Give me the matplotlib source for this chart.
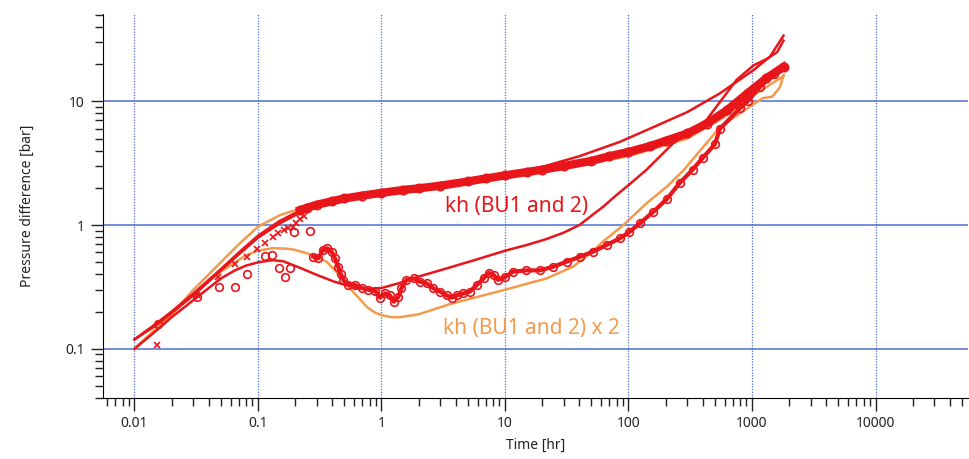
import numpy as np
import matplotlib
matplotlib.use("Agg")
import matplotlib.pyplot as plt
from matplotlib.ticker import LogLocator, FixedLocator, FixedFormatter, NullFormatter

plt.rcParams['font.family'] = ['Noto Sans', 'DejaVu Sans']

RED = '#e8151b'
ORANGE = '#f39a4c'
GRID = '#4a6fd4'

# measured derivative, sparse early part (open circles)
deriv_early_t = [0.0156, 0.0319, 0.0483, 0.065, 0.081, 0.114, 0.130, 0.149, 0.164, 0.181, 0.197, 0.264]
deriv_early_p = [0.16, 0.26, 0.317, 0.317, 0.40, 0.56, 0.57, 0.45, 0.38, 0.45, 0.88, 0.89]

# measured derivative, dense part
deriv_t = [0.281, 0.308, 0.334, 0.364, 0.395, 0.42, 0.446, 0.47, 0.49, 0.537, 0.61, 0.69,
           0.78, 0.89, 0.97, 1.07, 1.17, 1.26, 1.37, 1.45, 1.59, 1.82, 2.05, 2.32, 2.63,
           2.98, 3.37, 3.7, 4.05, 4.6, 5.2, 5.9, 6.7, 7.4, 8.1, 8.8, 10.0, 11.6, 14.9,
           19.1, 24.5, 31.5, 40.4, 51.8, 66.4, 85.0, 101.8, 123, 159, 204, 261, 330,
           400, 500, 550, 800, 920, 1160, 1500, 1790]
deriv_p = [0.555, 0.538, 0.628, 0.648, 0.61, 0.538, 0.46, 0.40, 0.36, 0.33, 0.327, 0.31,
           0.30, 0.293, 0.259, 0.28, 0.27, 0.24, 0.263, 0.308, 0.36, 0.37, 0.348, 0.338, 0.308,
           0.29, 0.27, 0.259, 0.27, 0.28, 0.29, 0.327, 0.37, 0.41, 0.395, 0.36, 0.38, 0.42, 0.43,
           0.43, 0.46, 0.505, 0.555, 0.61, 0.69, 0.78, 0.88, 1.03, 1.28, 1.62, 2.2, 2.8,
           3.5, 4.5, 6.0, 8.8, 10.0, 13.1, 16.5, 19.0]

# measured pressure change, dense part
press_t = [0.22, 0.25, 0.3, 0.4, 0.5, 0.7, 1.0, 1.5, 2.0, 3.0, 5.0, 7.0, 10.0, 15.0, 20.0,
           30.0, 50.0, 70.0, 100.0, 150.0, 200.0, 300.0, 430.0, 630.0, 920.0, 1300.0, 1800.0]
press_p = [1.32, 1.38, 1.46, 1.56, 1.64, 1.73, 1.82, 1.92, 1.98, 2.08, 2.25, 2.38, 2.52, 2.68, 2.8,
           3.0, 3.3, 3.6, 3.9, 4.35, 4.8, 5.5, 6.6, 8.5, 11.6, 15.3, 19.0]

# second build-up, early points (crosses)
bu2_t = [0.0153, 0.032, 0.0476, 0.065, 0.081, 0.0974, 0.114, 0.132, 0.146, 0.162, 0.176, 0.191, 0.205, 0.22, 0.235]
bu2_p = [0.108, 0.27, 0.38, 0.48, 0.55, 0.64, 0.72, 0.80, 0.87, 0.91, 0.94, 0.97, 1.03, 1.11, 1.18]

# model: kh (BU1 and 2)
red_pa_t = [0.01, 0.015, 0.02, 0.03, 0.05, 0.07, 0.1, 0.15, 0.2, 0.3, 0.5, 1, 3, 10, 20, 40, 85,
            160, 300, 550, 1030, 1400, 1800]
red_pa_p = [0.119, 0.16, 0.2, 0.28, 0.44, 0.6, 0.82, 1.08, 1.25, 1.45, 1.62, 1.85, 2.15, 2.6, 2.95,
            3.6, 4.7, 6.2, 8.2, 11.6, 17.9, 23, 34]
red_pb_t = [0.01, 0.015, 0.02, 0.03, 0.05, 0.07, 0.1, 0.15, 0.2, 0.3, 0.5, 1, 3, 10, 30, 100,
            300, 600, 1000, 1400, 1800]
red_pb_p = [0.119, 0.155, 0.195, 0.27, 0.43, 0.58, 0.79, 1.03, 1.2, 1.4, 1.58, 1.78, 2.05, 2.45,
            2.95, 3.8, 5.5, 8.2, 12.3, 16.0, 19.5]
red_d_t = [0.01, 0.015, 0.02, 0.032, 0.05, 0.065, 0.08, 0.1, 0.13, 0.16, 0.22, 0.3, 0.41, 0.5,
           0.63, 0.8, 1.0, 1.4, 1.94, 3.6, 6.2, 10, 15, 21.6, 30, 40, 62.6, 80, 100, 140, 231,
           430, 551, 750, 1026, 1315, 1600, 1800]
red_d_p = [0.1, 0.14, 0.18, 0.26, 0.37, 0.43, 0.47, 0.50, 0.52, 0.51, 0.45, 0.395, 0.35, 0.33,
           0.31, 0.305, 0.31, 0.34, 0.38, 0.455, 0.535, 0.62, 0.69, 0.77, 0.87, 1.0, 1.41, 1.75,
           2.1, 2.8, 4.6, 7.1, 9.9, 14.9, 19.5, 22, 25, 31]

# model: kh (BU1 and 2) x 2
ora_p_t = [0.01, 0.015, 0.02, 0.03, 0.05, 0.07, 0.1, 0.15, 0.2, 0.3, 0.5, 1, 3, 10, 30, 100,
           300, 600, 1000, 1800]
ora_p_p = [0.1, 0.145, 0.19, 0.3, 0.5, 0.7, 0.97, 1.2, 1.32, 1.5, 1.65, 1.85, 2.1, 2.45, 2.9,
           3.6, 5.0, 7.5, 11.0, 16.0]
ora_d_t = [0.01, 0.015, 0.02, 0.03, 0.05, 0.08, 0.1, 0.13, 0.17, 0.2, 0.25, 0.3, 0.36, 0.45,
           0.55, 0.65, 0.76, 0.88, 1.0, 1.2, 1.42, 2, 3.6, 6.2, 10, 21.6, 35.5, 50, 62.6, 91,
           140, 204, 280, 551, 920, 1220, 1460, 1690, 1800]
ora_d_p = [0.1, 0.145, 0.19, 0.28, 0.42, 0.57, 0.62, 0.65, 0.645, 0.63, 0.59, 0.55, 0.505, 0.40,
           0.31, 0.26, 0.218, 0.197, 0.187, 0.18, 0.18, 0.19, 0.23, 0.265, 0.30, 0.37, 0.46, 0.6,
           0.74, 1.0, 1.5, 2.04, 2.78, 6.2, 8.8, 10.6, 10.9, 13.1, 16.3]

x_major = [0.01, 0.1, 1, 10, 100, 1000, 10000]
x_labels = ['0.01', '0.1', '1', '10', '100', '1000', '10000']
y_major = [0.1, 1, 10]
y_labels = ['0.1', '1', '10']

fig = plt.figure(figsize=(9.7, 4.59), dpi=100)
ax = fig.add_axes([103 / 970, 1 - 398 / 459, 865 / 970, 384 / 459])
ax.set_xscale('log')
ax.set_yscale('log')

# grid: solid horizontal, dotted vertical
for y in y_major:
    ax.axhline(y, color=GRID, lw=1.1, zorder=1)
for x in x_major:
    ax.axvline(x, color=GRID, lw=0.9, ls=(0, (1, 1.2)), zorder=1)

# models
ax.plot(ora_p_t, ora_p_p, color=ORANGE, lw=1.8, zorder=2)
ax.plot(ora_d_t, ora_d_p, color=ORANGE, lw=1.8, zorder=2)
ax.plot(red_pa_t, red_pa_p, color=RED, lw=1.8, zorder=3)
ax.plot(red_pb_t, red_pb_p, color=RED, lw=1.8, zorder=3)
ax.plot(red_d_t, red_d_p, color=RED, lw=1.8, zorder=3)

# data
ax.plot(press_t, press_p, color=RED, lw=6, zorder=4)
ax.plot(press_t, press_p, ls='none', marker='o', ms=6, mfc='none', mec=RED, mew=1.2, zorder=4)
ax.plot(deriv_t, deriv_p, color=RED, lw=3, zorder=4)
ax.plot(deriv_t, deriv_p, ls='none', marker='o', ms=5.5, mfc='none', mec=RED, mew=1.2, zorder=4)
ax.plot(deriv_early_t, deriv_early_p, ls='none', marker='o', ms=5.5, mfc='none', mec=RED, mew=1.2, zorder=4)
ax.plot(bu2_t, bu2_p, ls='none', marker='x', ms=4.5, color=RED, mew=1.2, zorder=4)

ax.text(12.3, 1.4, 'kh (BU1 and 2)', color=RED, fontsize=15, ha='center', va='center')
ax.text(16.4, 0.147, 'kh (BU1 and 2) x 2', color=ORANGE, fontsize=15, ha='center', va='center')

ax.set_xlim(0.00556, 56100)
ax.set_ylim(0.04, 50.8)

ax.xaxis.set_major_locator(FixedLocator(x_major))
ax.xaxis.set_major_formatter(FixedFormatter(x_labels))
ax.yaxis.set_major_locator(FixedLocator(y_major))
ax.yaxis.set_major_formatter(FixedFormatter(y_labels))
ax.xaxis.set_minor_locator(LogLocator(base=10, subs=np.arange(2, 10), numticks=20))
ax.yaxis.set_minor_locator(LogLocator(base=10, subs=np.arange(2, 10), numticks=20))
ax.xaxis.set_minor_formatter(NullFormatter())
ax.yaxis.set_minor_formatter(NullFormatter())
ax.tick_params(which='major', direction='out', length=9, width=1, labelsize=10, colors='#222222', pad=4)
ax.tick_params(which='minor', direction='out', length=6, width=1, color='#222222')

for s in ['top', 'right']:
    ax.spines[s].set_visible(False)
for s in ['left', 'bottom']:
    ax.spines[s].set_color('black')

ax.set_xlabel('Time [hr]', fontsize=10, color='#222222', labelpad=5)
ax.set_ylabel('Pressure difference [bar]', fontsize=10, color='#222222', labelpad=22)

fig.savefig('out.png', dpi=100)
